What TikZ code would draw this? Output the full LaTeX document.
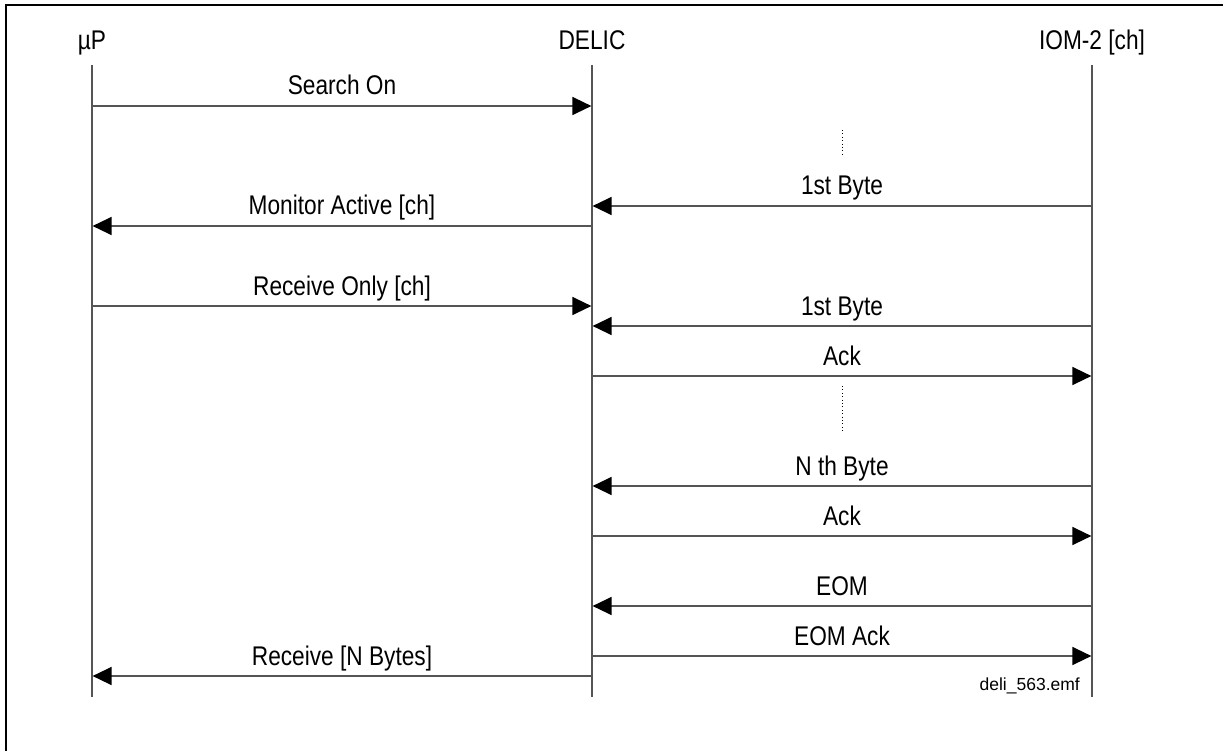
\documentclass[tikz,border=0pt]{standalone}
\usepackage{fontspec}
\setmainfont{Liberation Sans}[FakeStretch=0.84]
\newfontfamily\plainfont{Liberation Sans}
\usetikzlibrary{arrows.meta,positioning,calc}
\definecolor{SeqGray}{HTML}{555555}
\tikzset{head/.style={anchor=base,inner sep=0pt,font=\fontsize{27}{30}\selectfont},life/.style={SeqGray,line width=1.4pt},msg/.style={-{Triangle[length=19pt,width=18pt,black]},SeqGray,line width=1.4pt,shorten >=0.6pt},lbl/.style={anchor=base,inner sep=0pt,yshift=11pt,text=black,font=\fontsize{27}{30}\selectfont},wait/.style={black,line width=0.8pt,dash pattern=on 0.8pt off 2.6pt}}

\begin{document}
\begin{tikzpicture}[x=1pt,y=-1pt]
\useasboundingbox (0,0) rectangle (1223,751);
\draw[line width=2.6pt] (6,751)--(6,5)--(1223,5);
\foreach \n/\x/\lab in {up/92/µP,delic/592/DELIC,iom/1092/IOM-2 [ch]}{
\node[head] (\n) at (\x,50) {\lab};
\coordinate (\n-top) at (\x,65);
\coordinate (\n-bot) at (\x,697);
\draw[life] (\n-top)--(\n-bot);}
\foreach \y/\a/\b/\lab in {106/up/delic/Search On,206/iom/delic/1st Byte,226/delic/up/Monitor Active [ch],306/up/delic/Receive Only [ch],326/iom/delic/1st Byte,376/delic/iom/Ack,486/iom/delic/N th Byte,536/delic/iom/Ack,606/iom/delic/EOM,656/delic/iom/EOM Ack,676/delic/up/Receive [N Bytes]}{
\coordinate (s\y) at (\a-top |- 0,\y);
\coordinate (t\y) at (\b-top |- 0,\y);
\draw[msg] (s\y)--node[lbl]{\lab}(t\y);}
% waiting on IOM-2
\coordinate (w1a) at (842,130);
\coordinate (w1b) at (842,156);
\coordinate (w2a) at (842,386);
\coordinate (w2b) at (842,433);
\draw[wait] (w1a)--(w1b);
\draw[wait] (w2a)--(w2b);
\node[anchor=base east,inner sep=0pt,font=\plainfont\fontsize{17.5}{20}\selectfont] (file) at (1080,690) {deli\_563.emf};
\end{tikzpicture}
\end{document}
